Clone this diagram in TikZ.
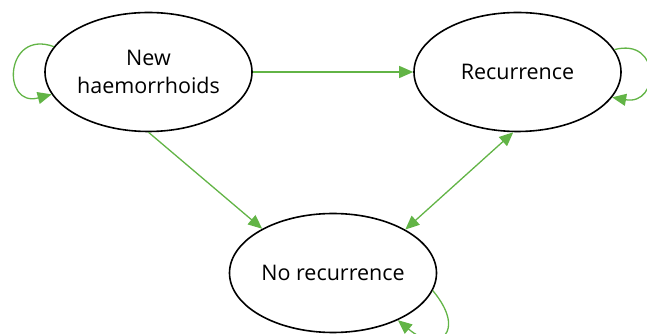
\documentclass[tikz,border=0pt]{standalone}
\usepackage{fontspec}
\setmainfont{Open Sans}
\usetikzlibrary{shapes.geometric,arrows.meta}
\definecolor{leaf}{RGB}{98,180,70}
\begin{document}
\begin{tikzpicture}[x=1pt,y=1pt,
state/.style={ellipse,draw,line width=1.6pt,minimum width=207pt,minimum height=119pt,inner sep=0pt,align=center,font=\fontsize{21.5}{28}\selectfont},
link/.style={draw=leaf,line width=1.3pt,-{Triangle[length=14pt,width=12pt]},fill=none},
]
\useasboundingbox(0,0)rectangle(647,334);
\node[state](new)at(148.5,262){New\\haemorrhoids};
\node[state](rec)at(517.5,262){Recurrence};
\node[state](norec)at(333,61){No recurrence};
\draw[link](new)--(rec);
\draw[link](new.south)--(norec.148);
\draw[link,{Triangle[length=14pt,width=12pt]}-{Triangle[length=14pt,width=12pt]}](rec.266)--(norec.31);
\begin{scope}
\clip(0,0)rectangle(647,334);
\draw[link](new.165)to[out=160,in=195,looseness=2.8](new.193);
\draw[link](rec.13)to[out=15,in=-10,looseness=2.6](rec.345);
\draw[link](norec.350)to[out=-50,in=-40,looseness=3](norec.324);
\end{scope}
\end{tikzpicture}
\end{document}
